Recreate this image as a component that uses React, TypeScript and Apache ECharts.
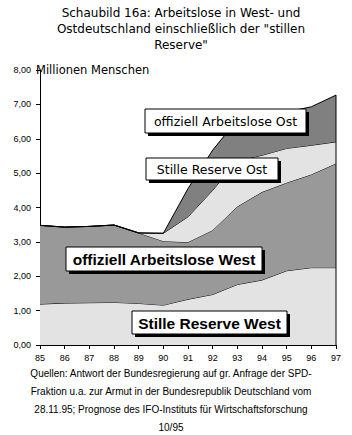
import React, { useEffect, useRef } from "react";
import * as echarts from "echarts";

const years = ["85", "86", "87", "88", "89", "90", "91", "92", "93", "94", "95", "96", "97"];
const stilleReserveWest = [1.19, 1.22, 1.23, 1.24, 1.21, 1.16, 1.33, 1.47, 1.76, 1.89, 2.16, 2.25, 2.25];
const offiziellWest = [2.29, 2.21, 2.22, 2.25, 2.05, 1.86, 1.66, 1.87, 2.27, 2.56, 2.56, 2.71, 3.03];
const stilleReserveOst = [0, 0, 0, 0, 0, 0.23, 0.74, 1.16, 1.32, 1.07, 1.0, 0.85, 0.63];
const offiziellOst = [0, 0, 0, 0, 0, 0, 0.82, 1.17, 1.2, 1.13, 1.06, 1.12, 1.36];

const titleLines = [
  "Schaubild 16a: Arbeitslose in West- und",
  'Ostdeutschland einschließlich der "stillen',
  'Reserve"',
];
const sourceLines = [
  "Quellen: Antwort der Bundesregierung auf gr. Anfrage der SPD-",
  "Fraktion u.a. zur Armut in der Bundesrepublik Deutschland vom",
  "28.11.95; Prognose des IFO-Instituts für Wirtschaftsforschung",
  "10/95",
];
const yAxisName = "Millionen Menschen";
const seriesNames = [
  "Stille Reserve West",
  "offiziell Arbeitslose West",
  "Stille Reserve Ost",
  "offiziell Arbeitslose Ost",
];

const FONT = "'Liberation Sans', Arial, sans-serif";
const WIDE = "'DejaVu Sans', sans-serif";

function labelBox(x: number, y: number, w: number, h: number, text: string, font: string) {
  return {
    type: "group",
    z: 100,
    children: [
      { type: "rect", z: 100, shape: { x: x + 3, y: y + 3, width: w, height: h }, style: { fill: "#000" } },
      { type: "rect", z: 101, shape: { x, y, width: w, height: h }, style: { fill: "#fff", stroke: "#000", lineWidth: 1 } },
      {
        type: "text",
        z: 102,
        x: x + w / 2,
        y: y + h / 2 + 0.5,
        style: {
          text,
          fill: "#000",
          font,
          textAlign: "center",
          textVerticalAlign: "middle",
        },
      },
    ],
  };
}

export default function App() {
  const ref = useRef<HTMLDivElement>(null);
  useEffect(() => {
    document.body.style.margin = "0";
    const chart = echarts.init(ref.current!, null, { renderer: "svg" });
    const last = years.length - 1;
    const total97 =
      stilleReserveWest[last] + offiziellWest[last] + stilleReserveOst[last] + offiziellOst[last];
    const colors = ["#e3e3e3", "#999999", "#e3e3e3", "#808080"];
    const values = [stilleReserveWest, offiziellWest, stilleReserveOst, offiziellOst];
    const graphic: any[] = [];
    titleLines.forEach((t, i) => {
      graphic.push({
        type: "text",
        x: 181,
        y: 12.5 + i * 16,
        style: { text: t, fill: "#000", font: `12px ${WIDE}`, textAlign: "center", textVerticalAlign: "middle" },
      });
    });
    sourceLines.forEach((t, i) => {
      graphic.push({
        type: "text",
        x: 171,
        y: 373 + i * 18.3,
        style: { text: t, fill: "#000", font: `10px ${FONT}`, textAlign: "center", textVerticalAlign: "middle" },
      });
    });
    graphic.push({
      type: "text",
      x: 36,
      y: 70,
      z: 50,
      style: { text: yAxisName, fill: "#000", font: `11.5px ${WIDE}`, textAlign: "left", textVerticalAlign: "middle" },
    });
    graphic.push(labelBox(145, 109, 161, 24, seriesNames[3], `12.5px ${WIDE}`));
    graphic.push(labelBox(146, 158, 132, 22, seriesNames[2], `12.5px ${WIDE}`));
    graphic.push(labelBox(66, 247, 196, 24, seriesNames[1], `bold 15.5px ${FONT}`));
    graphic.push(labelBox(132, 311, 155, 23, seriesNames[0], `bold 15.5px ${FONT}`));

    chart.setOption({
      animation: false,
      backgroundColor: "#fff",
      grid: { left: 40, right: 16, top: 70, bottom: 90, containLabel: false },
      xAxis: {
        type: "category",
        data: years,
        boundaryGap: false,
        axisLine: { lineStyle: { color: "#000", width: 1 } },
        axisTick: { show: true, length: 4, lineStyle: { color: "#000" } },
        axisLabel: { color: "#000", fontSize: 9, fontFamily: FONT, margin: 8 },
        splitLine: { show: false },
      },
      yAxis: {
        type: "value",
        min: 0,
        max: 8,
        interval: 1,
        axisLine: { show: true, lineStyle: { color: "#000", width: 1 } },
        axisTick: { show: true, length: 4, lineStyle: { color: "#000" } },
        axisLabel: {
          color: "#000",
          fontSize: 9,
          fontFamily: FONT,
          margin: 9,
          formatter: (v: number) => v.toFixed(2).replace(".", ","),
        },
        splitLine: { show: false },
      },
      series: [
        ...values.map((d, i) => ({
          name: seriesNames[i],
          type: "line",
          stack: "total",
          data: d,
          symbol: "none",
          areaStyle: { color: colors[i], opacity: 1 },
          lineStyle: { color: "#000", width: 1 },
          z: 2 + i,
        })),
        {
          name: "rand",
          type: "line",
          data: [
            [years[last], 0],
            [years[last], total97],
          ],
          symbol: "none",
          lineStyle: { color: "#000", width: 1 },
          z: 10,
          silent: true,
        },
      ],
      graphic,
    });
    return () => chart.dispose();
  }, []);
  return <div ref={ref} style={{ position: "fixed", left: 0, top: 0, width: 352, height: 435 }} />;
}
